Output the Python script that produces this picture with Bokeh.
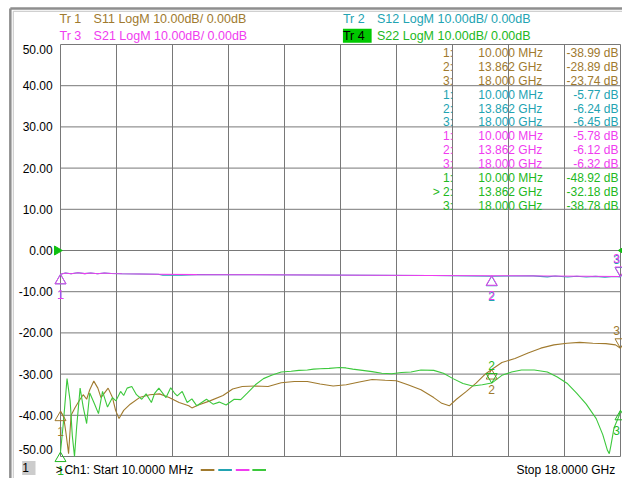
import math
from bokeh.plotting import figure
from bokeh.models import Range1d, Label
from bokeh.core.properties import value
from bokeh.embed import file_html
from bokeh.resources import INLINE

# ---------------- data ----------------
F_START = 0.01   # GHz
F_STOP = 18.0    # GHz
Y_TOP = 50.0
Y_BOT = -50.0
y_ticks = [50, 40, 30, 20, 10, 0, -10, -20, -30, -40, -50]
y_tick_labels = ["50.00", "40.00", "30.00", "20.00", "10.00", "0.00",
                 "-10.00", "-20.00", "-30.00", "-40.00", "-50.00"]

s11_freq = [0.01, 0.11, 0.18, 0.27, 0.35, 0.48, 0.64, 0.74, 0.85, 0.95, 1.08, 1.21, 1.31,
            1.42, 1.54, 1.68, 1.78, 1.89, 2.04, 2.25, 2.57, 2.88, 3.19, 3.50, 3.82, 4.13,
            4.23, 4.44, 4.81, 5.23, 5.54, 5.85, 6.27, 6.68, 7.10, 7.52, 7.94, 8.35, 8.77,
            9.19, 9.61, 10.02, 10.44, 10.80, 11.17, 11.59, 12.00, 12.26, 12.50, 12.73,
            13.05, 13.36, 13.67, 13.862, 14.19, 14.61, 15.03, 15.44, 15.86, 16.28, 16.69,
            17.11, 17.53, 17.84, 18.0]
s11_db = [-38.99, -40.4, -44.0, -49.3, -40.0, -38.1, -36.1, -35.0, -36.1, -33.8, -31.7, -33.4,
          -35.7, -34.6, -33.4, -35.7, -38.8, -40.8, -38.8, -37.3, -35.6, -35.0, -34.8, -35.7,
          -36.9, -37.7, -38.2, -37.5, -36.5, -35.2, -33.6, -33.0, -32.9, -33.0, -32.1, -31.8,
          -31.8, -32.4, -32.9, -32.6, -31.9, -31.3, -31.5, -31.6, -32.6, -33.8, -35.7, -37.1,
          -37.7, -36.1, -34.2, -32.2, -29.9, -28.89, -27.2, -26.2, -24.9, -23.7, -22.9, -22.5,
          -22.3, -22.5, -22.6, -22.9, -23.74]

s12_freq = [0.01, 0.17, 0.35, 0.57, 0.79, 0.98, 1.2, 1.42, 1.64, 1.98, 3.14, 3.3, 3.9, 4.39,
            6.27, 8.14, 10.02, 11.9, 13.862, 15.2, 15.65, 15.9, 16.3, 16.6, 16.9, 17.2, 17.5,
            17.8, 18.0]
s12_db = [-5.77, -5.45, -5.65, -5.4, -5.62, -5.45, -5.65, -5.45, -5.6, -5.65, -5.75, -5.98,
          -5.98, -5.85, -5.9, -5.95, -6.0, -6.05, -6.24, -6.15, -6.4, -6.2, -6.42, -6.24, -6.45,
          -6.27, -6.47, -6.3, -6.45]

s21_freq = [0.01, 0.17, 0.35, 0.57, 0.79, 0.98, 1.2, 1.42, 1.64, 1.98, 3.14, 4.39, 6.27,
            8.14, 10.02, 11.9, 13.862, 15.65, 16.9, 18.0]
s21_db = [-5.78, -5.45, -5.65, -5.4, -5.62, -5.45, -5.65, -5.45, -5.6, -5.65, -5.75, -5.85,
          -5.9, -5.95, -6.0, -6.05, -6.12, -6.2, -6.25, -6.32]

s22_freq = [0.01, 0.10, 0.22, 0.32, 0.39, 0.46, 0.53, 0.64, 0.74, 0.85, 0.95, 1.10, 1.23,
            1.36, 1.52, 1.68, 1.79, 1.94, 2.04, 2.15, 2.30, 2.45, 2.62, 2.76, 2.93, 3.04,
            3.17, 3.29, 3.40, 3.55, 3.67, 3.76, 3.92, 4.08, 4.23, 4.39, 4.70, 4.91, 5.11,
            5.33, 5.59, 5.80, 6.01, 6.27, 6.53, 6.79, 7.10, 7.42, 7.67, 7.94, 8.14, 8.35,
            8.64, 8.98, 9.18, 9.40, 9.71, 10.02, 10.33, 10.65, 10.96, 11.27, 11.59, 12.00,
            12.31, 12.62, 12.94, 13.25, 13.56, 13.862, 14.19, 14.50, 14.82, 15.23, 15.65,
            15.97, 16.28, 16.59, 16.90, 17.22, 17.43, 17.58, 17.64, 17.69, 17.79, 17.95, 18.0]
s22_db = [-48.92, -42.0, -31.1, -36.5, -45.0, -50.0, -42.7, -33.4, -38.0, -42.0, -34.6, -37.2,
          -39.6, -34.2, -38.0, -35.7, -36.5, -34.2, -35.2, -33.4, -33.0, -35.0, -36.1, -34.8,
          -36.9, -34.6, -33.4, -34.6, -35.7, -33.3, -34.6, -35.3, -34.2, -36.9, -36.0, -37.7,
          -36.1, -37.3, -36.8, -37.5, -36.1, -36.2, -34.6, -32.6, -31.1, -30.3, -29.5, -29.3,
          -29.1, -29.0, -28.8, -28.7, -28.6, -28.4, -28.5, -28.8, -29.1, -29.4, -29.8, -29.9,
          -29.6, -29.5, -29.0, -29.1, -29.8, -31.1, -32.3, -32.9, -32.6, -32.18, -30.3, -29.5,
          -29.0, -29.0, -29.5, -30.7, -32.2, -34.6, -37.3, -40.8, -44.7, -48.5, -49.3, -47.4,
          -43.1, -40.2, -38.78]

marker_freq = [0.01, 13.862, 18.0]
marker_freq_text = ["10.000 MHz", "13.862 GHz", "18.000 GHz"]
marker_names = ["1", "2", "3"]
s11_mk = [-38.99, -28.89, -23.74]
s12_mk = [-5.77, -6.24, -6.45]
s21_mk = [-5.78, -6.12, -6.32]
s22_mk = [-48.92, -32.18, -38.78]

# ---------------- style / layout ----------------
FONT = "Liberation Sans"
C11 = "#A07A2E"
C12 = "#22A3B2"
C21 = "#F03CF0"
C22 = "#3CC83C"
C22T = "#22B822"
GRID = "#787878"

W, H = 622, 478
GX0, GX1 = 60, 620      # grid left/right in figure px
GY0, GY1 = 44, 456      # grid top/bottom in figure px
xpp = (F_STOP - F_START) / (GX1 - GX0)
ypp = (Y_TOP - Y_BOT) / (GY1 - GY0)

x_range = Range1d(F_START - GX0 * xpp, F_STOP + (W - GX1) * xpp)
y_range = Range1d(Y_BOT - (H - GY1) * ypp, Y_TOP + GY0 * ypp)

# reference-picture pixel -> data coordinate helpers (for text placement)
def fx(rx):
    return F_START + (rx - 60) * (F_STOP - F_START) / 575.0

def fy(ry):
    return Y_TOP - (ry - 44) * (Y_TOP - Y_BOT) / 428.0

p = figure(width=W, height=H, x_range=x_range, y_range=y_range,
           x_axis_location=None, y_axis_location=None,
           toolbar_location=None, output_backend="svg")
p.min_border = 0
p.outline_line_color = None
p.xgrid.visible = False
p.ygrid.visible = False
p.background_fill_color = "white"
p.border_fill_color = "white"

# outer screen border
p.segment(x0=[fx(8.5), fx(8.5)], y0=[fy(6.5), fy(6.5)], x1=[fx(8.5), fx(640)],
          y1=[fy(500), fy(6.5)], line_color="#8E8E8E", line_width=2.5)
p.segment(x0=[fx(11.5), fx(11.5)], y0=[fy(9.5), fy(9.5)], x1=[fx(11.5), fx(640)],
          y1=[fy(500), fy(9.5)], line_color="#C4C4C4", line_width=1)

# grid
ndiv = 10
xg = [F_START + i * (F_STOP - F_START) / ndiv for i in range(ndiv + 1)]
p.segment(x0=xg, y0=[Y_BOT] * len(xg), x1=xg, y1=[Y_TOP] * len(xg),
          line_color=GRID, line_width=1)
p.segment(x0=[F_START] * len(y_ticks), y0=y_ticks, x1=[F_STOP] * len(y_ticks), y1=y_ticks,
          line_color=GRID, line_width=1)

# y tick labels
lab_x = [fx(52)] * len(y_ticks)
p.text(lab_x[1:-1], y_ticks[1:-1], text=y_tick_labels[1:-1], text_color="black",
       text_font=value(FONT), text_font_size="12px", text_align="right",
       text_baseline="middle")
p.text(lab_x[:1], y_ticks[:1], text=y_tick_labels[:1], y_offset=5, text_color="black",
       text_font=value(FONT), text_font_size="12px", text_align="right",
       text_baseline="middle")
p.text(lab_x[-1:], y_ticks[-1:], text=y_tick_labels[-1:], y_offset=-7, text_color="black",
       text_font=value(FONT), text_font_size="12px", text_align="right",
       text_baseline="middle")

# traces (Tr1..Tr4)
p.line(s11_freq, s11_db, line_color=C11, line_width=1.1)
p.line(s12_freq, s12_db, line_color=C12, line_width=1.1)
p.line(s21_freq, s21_db, line_color=C21, line_width=1.1)
p.line(s22_freq, s22_db, line_color=C22, line_width=1.1)

# markers
TRI = 11
tri_off = (TRI / 2.0) * math.sqrt(3) * 2.0 / 3.0   # px from center to tip

def draw_markers(vals, orient, color):
    for f, v, o, n in zip(marker_freq, vals, orient, marker_names):
        if o == "below":
            p.scatter([f], [v - tri_off * ypp], marker="triangle", size=TRI,
                      fill_color=None, line_color=color, line_width=1)
            yoff = 20
            fig_y = GY0 + (Y_TOP - v) / ypp
            if fig_y + yoff > H - 8:
                yoff = H - 8 - fig_y
        else:
            p.scatter([f], [v + tri_off * ypp], marker="inverted_triangle", size=TRI,
                      fill_color=None, line_color=color, line_width=1)
            yoff = -18
        xoff = -4 if f == F_STOP else 0
        p.text([f], [v], text=[n], x_offset=xoff, y_offset=yoff, text_color=color,
               text_font=value(FONT), text_font_size="12px",
               text_align="center", text_baseline="middle")

draw_markers(s11_mk, ["below", "below", "above"], C11)
draw_markers(s12_mk, ["below", "below", "above"], C12)
draw_markers(s21_mk, ["below", "below", "above"], C21)
draw_markers(s22_mk, ["below", "above", "below"], C22T)

# reference level markers at 0 dB
p.scatter([fx(56.5)], [0], marker="triangle", angle=-math.pi / 2, size=9,
          fill_color="#10C010", line_color="#10C010")
p.scatter([fx(638)], [0], marker="triangle", angle=math.pi / 2, size=9,
          fill_color="#10C010", line_color="#10C010")

def lab(rx, ry, text, color="black", size="12px", align="left", bg=None):
    kw = {}
    if bg is not None:
        kw["background_fill_color"] = bg
    p.add_layout(Label(x=fx(rx), y=fy(ry), text=text, text_color=color,
                       text_font=FONT, text_font_size=size, text_align=align,
                       text_baseline="middle", **kw))

# header
lab(59, 17, "Tr  1", C11, size="12.5px")
lab(94, 17, "S11 LogM 10.00dB/  0.00dB", C11, size="12.5px")
lab(59, 35, "Tr  3", C21, size="12.5px")
lab(94, 35, "S21 LogM 10.00dB/  0.00dB", C21, size="12.5px")
lab(350, 17, "Tr  2", C12, size="12.5px")
lab(385, 17, "S12 LogM 10.00dB/  0.00dB", C12, size="12.5px")
lab(350, 35, "Tr  4 ", "black", size="12.5px", bg="#00C800")
lab(385, 35, "S22 LogM 10.00dB/  0.00dB", C22T, size="12.5px")

# marker table
groups = [(s11_mk, C11, ["1:", "2:", "3:"]),
          (s12_mk, C12, ["1:", "2:", "3:"]),
          (s21_mk, C21, ["1:", "2:", "3:"]),
          (s22_mk, C22T, ["1:", "> 2:", "3:"])]
row = 0
for vals, col, names in groups:
    for v, ft, nm in zip(vals, marker_freq_text, names):
        ry = 52.5 + 14.5 * row
        lab(463, ry, nm, col, align="right")
        lab(489, ry, ft, col)
        lab(633, ry, "%.2f dB" % v, col, align="right")
        row += 1

# footer
lab(27.5, 484, " 1 ", "black", align="center", bg="#CCCCCC")
lab(55, 486, ">", "black")
lab(64, 486, "Ch1: Start  10.0000 MHz", "black")
lab(633, 486, "Stop  18.0000 GHz", "black", align="right")
dash_x0 = [204, 222, 240, 257]
dash_cols = [C11, C12, C21, C22]
for x0, c in zip(dash_x0, dash_cols):
    p.segment(x0=[fx(x0)], y0=[fy(486)], x1=[fx(x0 + 14)], y1=[fy(486)],
              line_color=c, line_width=2)

open("out.html", "w").write(file_html(p, INLINE))
